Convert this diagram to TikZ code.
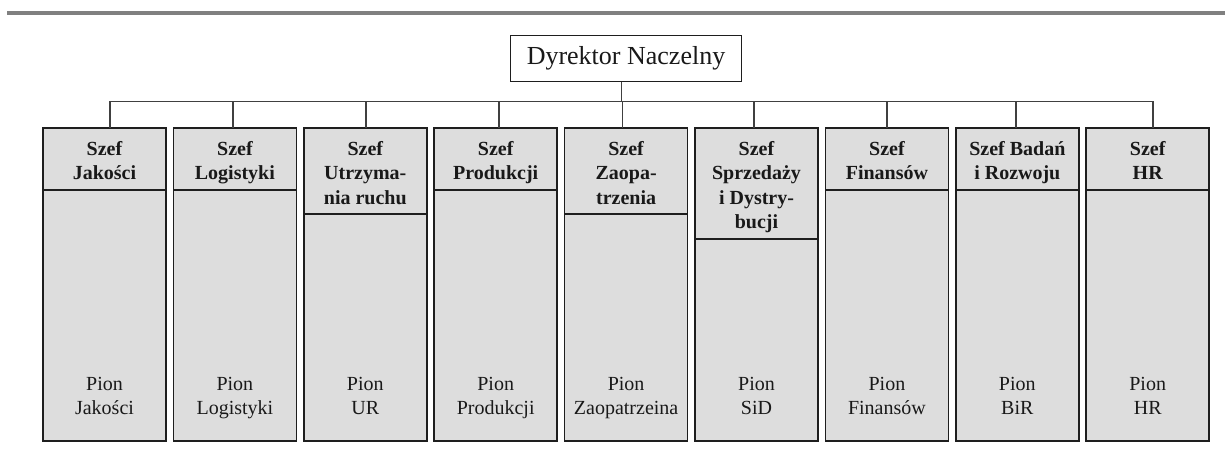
\documentclass[tikz,border=0pt]{standalone}
\usepackage{fontspec}
\setmainfont{Liberation Serif}
\definecolor{boxfill}{RGB}{221,221,221}
\definecolor{edge}{RGB}{30,30,30}
\definecolor{barc}{RGB}{128,128,128}
\tikzset{
  body/.style={draw=edge, fill=boxfill, line width=1.6pt, minimum width=123pt, minimum height=313pt, inner sep=0pt, outer sep=0pt},
  head/.style={draw=edge, fill=boxfill, line width=1.6pt, minimum width=123pt, inner sep=0pt, outer sep=0pt},
  headtext/.style={align=center, inner sep=0pt, font=\fontsize{20}{24.3}\selectfont\bfseries, text=black!90},
  piontext/.style={align=center, inner sep=0pt, font=\fontsize{20}{23.6}\selectfont, text=black!90},
  dirbox/.style={draw=edge, fill=white, line width=1.3pt, minimum width=230.6pt, minimum height=46pt, inner sep=0pt, outer sep=0pt, font=\fontsize{26}{30}\selectfont, text=black!90},
  conn/.style={draw=edge!85, line width=1.2pt}
}
\newcommand{\orgunit}[6]{%
  \node[body, anchor=north west] (#1) at (#2,128) {};
  \node[head, anchor=north west, minimum height=#3pt] (#1h) at (#2,128) {};
  \node[headtext, anchor=north] (#1t) at ([yshift=-13.3pt]#1.north) {#4};
  \node[piontext, anchor=north] (#1p) at ([yshift=-249pt]#1.north) {#5};
  \draw[conn] ([xshift=#6pt]#1.north) |- (bus);
}
\begin{document}
\begin{tikzpicture}[x=1pt,y=-1pt]
\useasboundingbox (0,0) rectangle (1225,468);
\fill[barc] (7,11) rectangle (1225,15);
\node[dirbox] (dir) at (626,58.7) {Dyrektor Naczelny};
\coordinate (bus) at (621.7,101.7);
\draw[conn] ([xshift=-4.3pt]dir.south) -- (bus);
\orgunit{b1}{43}{62}{Szef\\Jakości}{Pion\\Jakości}{5.5}
\orgunit{b2}{173.4}{62}{Szef\\Logistyki}{Pion\\Logistyki}{-2}
\orgunit{b3}{303.8}{86}{Szef\\Utrzyma-\\nia ruchu}{Pion\\UR}{0.7}
\orgunit{b4}{434.2}{62}{Szef\\Produkcji}{Pion\\Produkcji}{3.3}
\orgunit{b5}{564.6}{86}{Szef\\Zaopa-\\trzenia}{Pion\\Zaopatrzeina}{-4}
\orgunit{b6}{695}{111}{Szef\\Sprzedaży\\i Dystry-\\bucji}{Pion\\SiD}{-2.5}
\orgunit{b7}{825.4}{62}{Szef\\Finansów}{Pion\\Finansów}{0}
\orgunit{b8}{955.8}{62}{Szef Badań\\i Rozwoju}{Pion\\BiR}{-1.3}
\orgunit{b9}{1086.2}{62}{Szef\\HR}{Pion\\HR}{5.3}
\end{tikzpicture}
\end{document}
